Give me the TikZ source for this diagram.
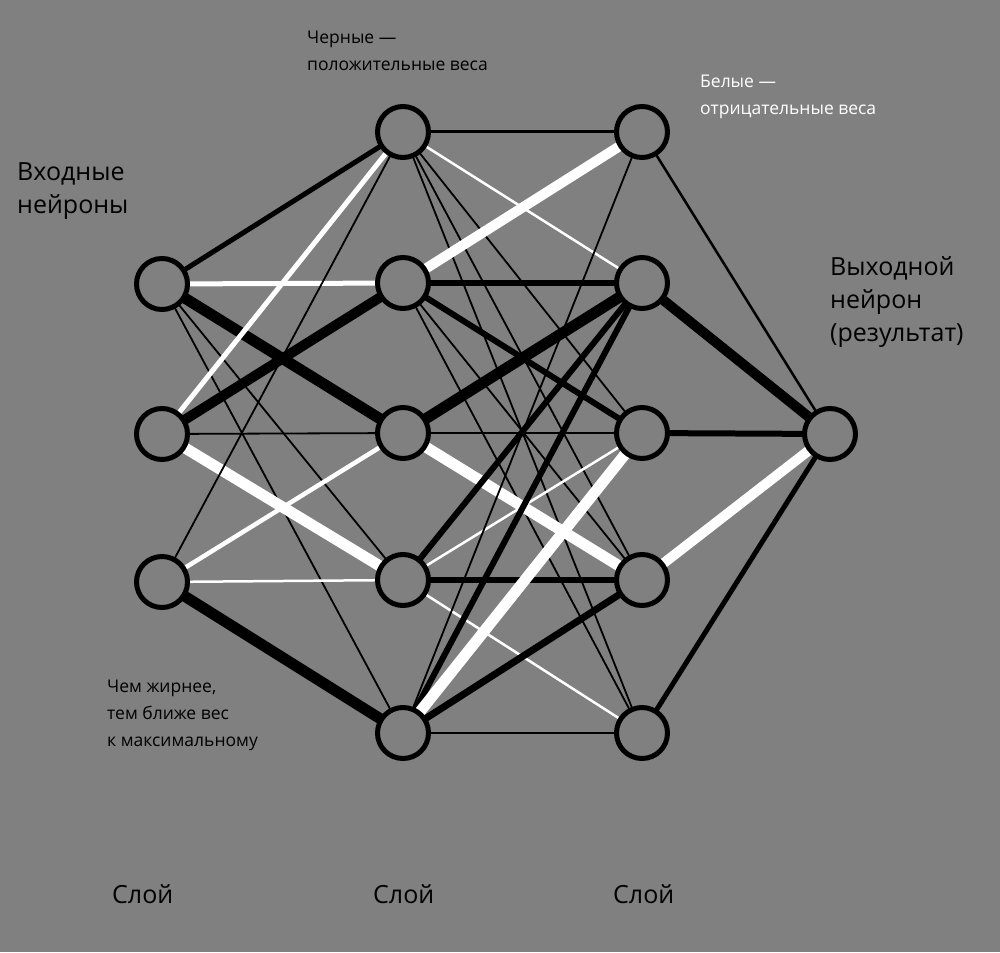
\documentclass[tikz,border=0pt]{standalone}
\usepackage{fontspec}
\setmainfont{Open Sans}
\usetikzlibrary{positioning}
\definecolor{bggray}{RGB}{128,128,128}
\begin{document}
\begin{tikzpicture}[x=1pt,y=-1pt,
 neuron/.style={circle,draw=black,fill=bggray,line width=5pt,minimum size=51pt,inner sep=0pt},
 poswt/.style={draw=black},
 negwt/.style={draw=white},
 lbl/.style={font=\fontsize{25}{33}\selectfont,align=left,anchor=north west,inner sep=0pt},
 note/.style={font=\fontsize{17.5}{27}\selectfont,align=left,anchor=north west,inner sep=0pt}]
\fill[bggray] (0,0) rectangle (1000,952);
\useasboundingbox (0,0) rectangle (1000,952);

% layers
\foreach \n/\y in {1/284,2/434,3/582}
  \coordinate (ic\n) at (162,\y);
\foreach \n/\y in {1/132,2/283,3/433,4/580,5/733}{
  \coordinate (ac\n) at (403,\y);
  \coordinate (bc\n) at (642,\y);
}
\coordinate (oc) at (830,434);

% weights
\foreach \s/\t/\c/\w in {ic1/ac1/poswt/5, ic1/ac2/negwt/5, ic1/ac3/poswt/11, ic1/ac4/poswt/1.8, ic1/ac5/poswt/1.8,
  ic2/ac1/negwt/5, ic2/ac2/poswt/10, ic2/ac3/poswt/1.8, ic2/ac4/negwt/11,
  ic3/ac1/poswt/1.8, ic3/ac3/negwt/4.5, ic3/ac4/negwt/2.5, ic3/ac5/poswt/11,
  ac1/bc1/poswt/3, ac1/bc2/negwt/2.5, ac1/bc3/poswt/1.8, ac1/bc4/poswt/1.8, ac1/bc5/poswt/1.8,
  ac2/bc1/negwt/10, ac2/bc2/poswt/6, ac2/bc3/poswt/6, ac2/bc4/poswt/1.8, ac2/bc5/poswt/1.8,
  ac3/bc2/poswt/11, ac3/bc3/poswt/1.8, ac3/bc4/negwt/11,
  ac4/bc2/poswt/6, ac4/bc3/negwt/2.5, ac4/bc4/poswt/6, ac4/bc5/negwt/2.5,
  ac5/bc1/poswt/1.8, ac5/bc2/poswt/6, ac5/bc3/negwt/11, ac5/bc4/poswt/7, ac5/bc5/poswt/2.5,
  bc1/oc/poswt/2.5, bc2/oc/poswt/10, bc3/oc/poswt/6, bc4/oc/negwt/10, bc5/oc/poswt/5}
  \draw[\c,line width=\w pt] (\s) -- (\t);

% neurons
\foreach \n in {1,2,3}
  \node[neuron] (i\n) at (ic\n) {};
\foreach \n in {1,...,5}{
  \node[neuron] (a\n) at (ac\n) {};
  \node[neuron] (b\n) at (bc\n) {};
}
\node[neuron] (o) at (oc) {};

% texts
\node[lbl] (inlbl) at (17,162) {Входные\\нейроны};
\node[lbl] (outlbl) at (830,256) {Выходной\\нейрон\\(результат)};
\node[note] (blk) at (307,31) {Черные —\\положительные веса};
\node[note,text=white] (wht) at (700,75) {Белые —\\отрицательные веса};
\node[note] (fat) at (107,680) {Чем жирнее,\\тем ближе вес\\к максимальному};
\node[lbl] (l1) at (112,884) {Слой};
\node[lbl] (l2) at (373,884) {Слой};
\node[lbl] (l3) at (613,884) {Слой};
\end{tikzpicture}
\end{document}
